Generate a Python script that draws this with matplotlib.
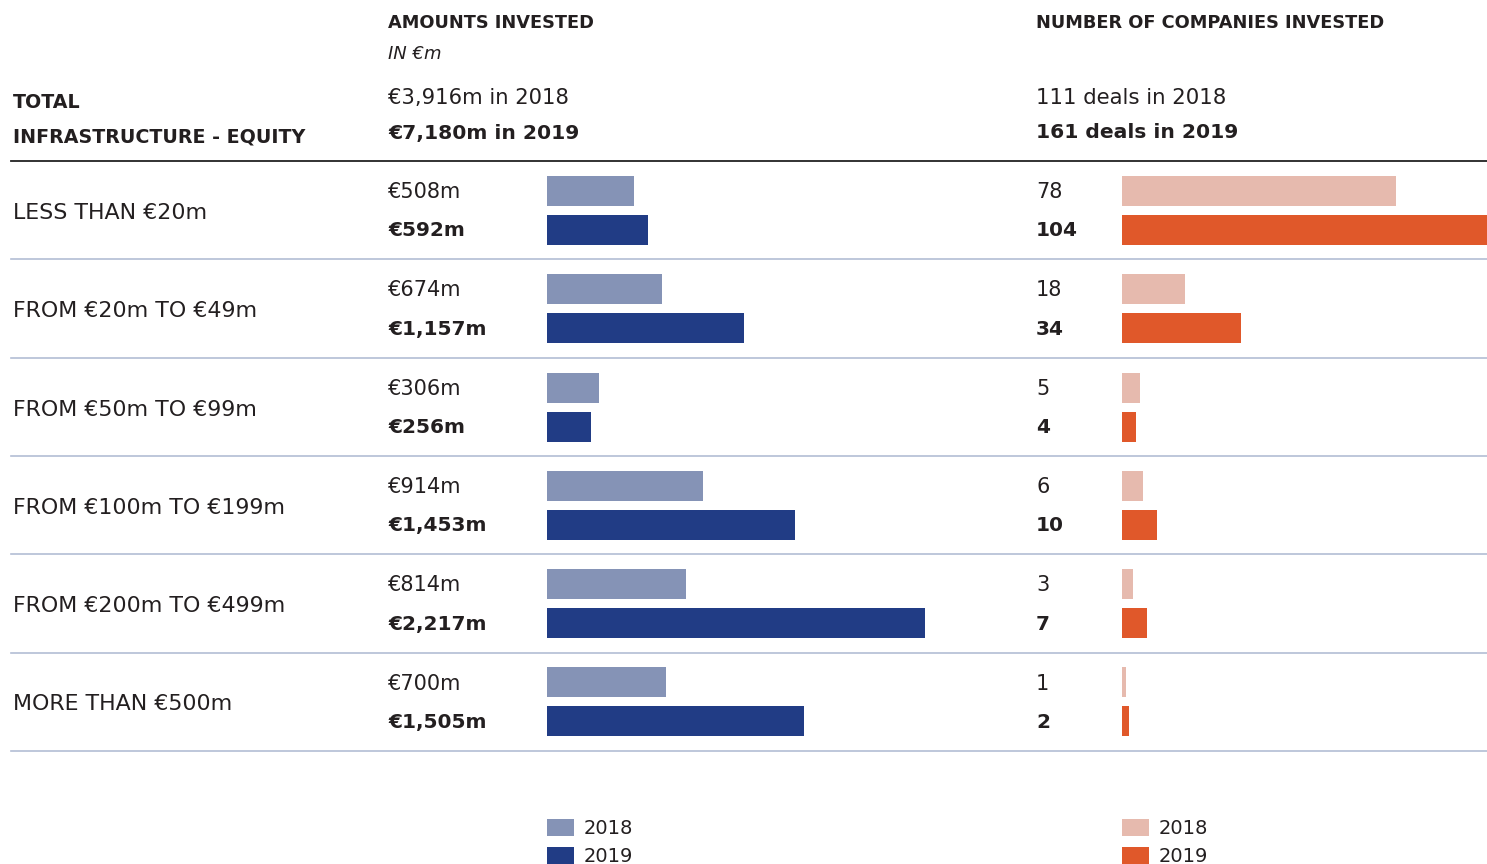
import matplotlib
matplotlib.use("Agg")
import matplotlib.pyplot as plt
from matplotlib.patches import Rectangle

# data
categories = ["LESS THAN €20m", "FROM €20m TO €49m", "FROM €50m TO €99m",
              "FROM €100m TO €199m", "FROM €200m TO €499m", "MORE THAN €500m"]
amount_2018 = [508, 674, 306, 914, 814, 700]
amount_2019 = [592, 1157, 256, 1453, 2217, 1505]
deals_2018 = [78, 18, 5, 6, 3, 1]
deals_2019 = [104, 34, 4, 10, 7, 2]
years = ["2018", "2019"]
total_amount = ["€3,916m in 2018", "€7,180m in 2019"]
total_deals = ["111 deals in 2018", "161 deals in 2019"]

C_AM18, C_AM19 = "#8593b6", "#213c85"
C_DL18, C_DL19 = "#e6baae", "#e0582a"
TXT = "#231f20"
SEP = "#b3bdd4"

W, H = 1487, 864
plt.rcParams['font.family'] = ['DejaVu Sans']
fig = plt.figure(figsize=(W / 100, H / 100), dpi=100)

# background axes in pixel coords
bg = fig.add_axes([0, 0, 1, 1])
bg.set_xlim(0, W)
bg.set_ylim(H, 0)
bg.axis("off")

def px_axes(x0, y0, x1, y1):
    return fig.add_axes([x0 / W, 1 - y1 / H, (x1 - x0) / W, (y1 - y0) / H])

row_top, row_h = 161, 98.3
n = len(categories)

# headers
bg.text(388, 23, "AMOUNTS INVESTED", fontsize=12.8, fontweight="bold", color=TXT, va="center")
bg.text(388, 54, "IN €m", fontsize=13, style="italic", color=TXT, va="center")
bg.text(388, 98, total_amount[0], fontsize=15.2, color=TXT, va="center")
bg.text(388, 133, total_amount[1], fontsize=14.6, fontweight="bold", color=TXT, va="center")
bg.text(1036, 23, "NUMBER OF COMPANIES INVESTED", fontsize=12.8, fontweight="bold", color=TXT, va="center")
bg.text(1036, 98, total_deals[0], fontsize=15.3, color=TXT, va="center")
bg.text(1036, 133, total_deals[1], fontsize=14.6, fontweight="bold", color=TXT, va="center")
bg.text(13, 103, "TOTAL", fontsize=13.7, fontweight="bold", color=TXT, va="center")
bg.text(13, 137, "INFRASTRUCTURE - EQUITY", fontsize=13.7, fontweight="bold", color=TXT, va="center")

bg.plot([11, W], [row_top, row_top], color="#222222", lw=1.3)
for i in range(n):
    y = row_top + (i + 1) * row_h
    bg.plot([11, W], [y, y], color=SEP, lw=1.2)
    yc = row_top + i * row_h
    bg.text(13, yc + 52, categories[i], fontsize=15.9, color=TXT, va="center")
    bg.text(388, yc + 31, f"€{amount_2018[i]:,}m", fontsize=15, color=TXT, va="center")
    bg.text(388, yc + 70, f"€{amount_2019[i]:,}m", fontsize=14.5, fontweight="bold", color=TXT, va="center")
    bg.text(1036, yc + 31, str(deals_2018[i]), fontsize=15, color=TXT, va="center")
    bg.text(1036, yc + 70, str(deals_2019[i]), fontsize=14.5, fontweight="bold", color=TXT, va="center")

# bar axes
pos = list(range(n))
off18, off19, bh = 30 / row_h, 69 / row_h, 30 / row_h
ax1 = px_axes(547, row_top, 925, row_top + n * row_h)
ax1.barh([p + off18 for p in pos], amount_2018, height=bh, color=C_AM18)
ax1.barh([p + off19 for p in pos], amount_2019, height=bh, color=C_AM19)
ax1.set_xlim(0, max(amount_2019))
ax1.set_ylim(n, 0)
ax1.axis("off")

ax2 = px_axes(1122, row_top, W, row_top + n * row_h)
ax2.barh([p + off18 for p in pos], deals_2018, height=bh, color=C_DL18)
ax2.barh([p + off19 for p in pos], deals_2019, height=bh, color=C_DL19)
ax2.set_xlim(0, max(deals_2019))
ax2.set_ylim(n, 0)
ax2.axis("off")

# legends
for x0, cols in [(547, (C_AM18, C_AM19)), (1122, (C_DL18, C_DL19))]:
    for k, (yr, c) in enumerate(zip(years, cols)):
        yc = 827 + k * 28
        bg.add_patch(Rectangle((x0, yc - 8), 27, 17, color=c, lw=0))
        bg.text(x0 + 37, yc + 1, yr, fontsize=14, color=TXT, va="center")

fig.savefig("out.png", dpi=100)
